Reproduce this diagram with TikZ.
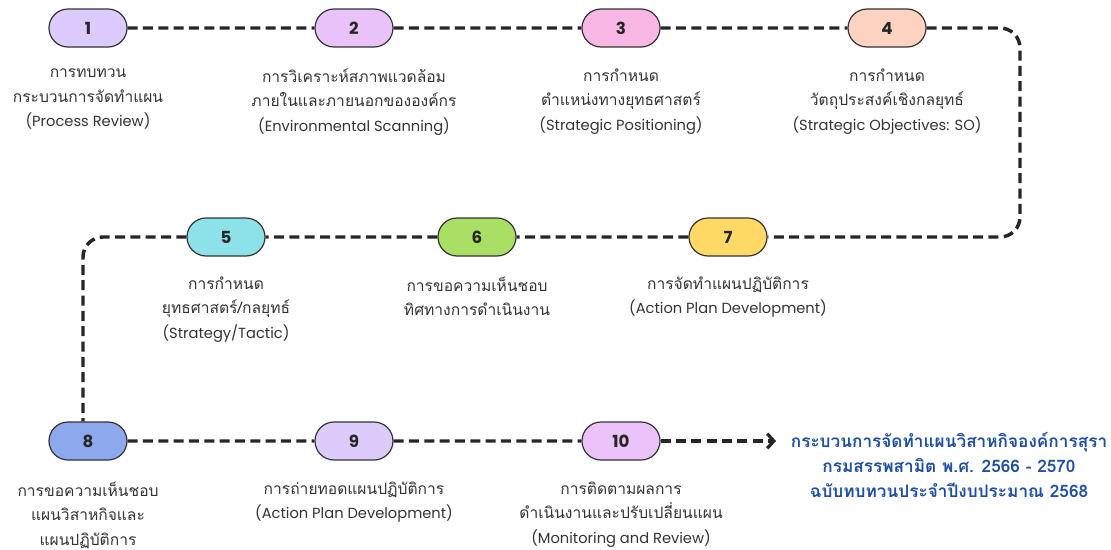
\documentclass[tikz,border=0pt]{standalone}
\usepackage{fontspec}
\setmainfont{Poppins}
\newfontfamily\thai[Script=Thai]{Loma}
\newfontfamily\numfont{Poppins}
\usetikzlibrary{shapes.misc,arrows.meta}
\definecolor{txt}{HTML}{333333}
\definecolor{c1}{HTML}{DCCBFC}
\definecolor{c2}{HTML}{E9C2FA}
\definecolor{c3}{HTML}{F9B7E6}
\definecolor{c4}{HTML}{FCD3C0}
\definecolor{c5}{HTML}{8DE1E8}
\definecolor{c6}{HTML}{A9E064}
\definecolor{c7}{HTML}{FFD966}
\definecolor{c8}{HTML}{8EA8EE}
\definecolor{c9}{HTML}{DDCBFC}
\definecolor{c10}{HTML}{EBC2F9}
\definecolor{titleblue}{HTML}{1F4FA0}
\tikzset{
  pill/.style={rounded rectangle, draw=black!80, line width=0.9pt, fill=#1,
    minimum width=58.5pt, minimum height=28.5pt, inner sep=0pt,
    font=\numfont\bfseries\fontsize{12.5}{13}\selectfont, text=black!85},
  lbl/.style={anchor=north, align=center, text=txt,
    font=\thai\fontsize{11.7}{18.4}\selectfont},
  link/.style={line width=2.6pt, dash pattern=on 7.5pt off 4pt, draw=black!85},
  ttl/.style={anchor=north, align=center, text=titleblue,
    font=\thai\bfseries\fontsize{12.9}{18.6}\selectfont}
}
\newcommand{\en}[1]{{\numfont\fontsize{11}{18.4}\selectfont #1}}
\begin{document}
\begin{tikzpicture}[x=0.75pt,y=-0.75pt]
  \useasboundingbox (0,0) rectangle (1111,550);

  % process steps
  \node[pill=c1]  (p1)  at (88,28)   {1};
  \node[pill=c2]  (p2)  at (354,28)  {2};
  \node[pill=c3]  (p3)  at (621,28)  {3};
  \node[pill=c4]  (p4)  at (887,28)  {4};
  \node[pill=c5]  (p5)  at (226,237) {5};
  \node[pill=c6]  (p6)  at (477,237) {6};
  \node[pill=c7]  (p7)  at (728,237) {7};
  \node[pill=c8]  (p8)  at (88,441)  {8};
  \node[pill=c9]  (p9)  at (354,441) {9};
  \node[pill=c10] (p10) at (621,441) {10};

  % step descriptions
  \node[lbl] (t1) at (88,64)  {การทบทวน\\กระบวนการจัดทำแผน\\\en{(Process Review)}};
  \node[lbl] (t2) at (354,64) {การวิเคราะห์สภาพแวดล้อม\\ภายในและภายนอกขององค์กร\\\en{(Environmental Scanning)}};
  \node[lbl] (t3) at (621,64) {การกำหนด\\ตำแหน่งทางยุทธศาสตร์\\\en{(Strategic Positioning)}};
  \node[lbl] (t4) at (887,64) {การกำหนด\\วัตถุประสงค์เชิงกลยุทธ์\\\en{(Strategic Objectives: SO)}};
  \node[lbl] (t5) at (226,272) {การกำหนด\\ยุทธศาสตร์/กลยุทธ์\\\en{(Strategy/Tactic)}};
  \node[lbl] (t6) at (477,272) {การขอความเห็นชอบ\\ทิศทางการดำเนินงาน};
  \node[lbl] (t7) at (728,272) {การจัดทำแผนปฏิบัติการ\\\en{(Action Plan Development)}};
  \node[lbl] (t8) at (88,477)  {การขอความเห็นชอบ\\แผนวิสาหกิจและ\\แผนปฏิบัติการ};
  \node[lbl] (t9) at (354,477) {การถ่ายทอดแผนปฏิบัติการ\\\en{(Action Plan Development)}};
  \node[lbl] (t10) at (621,477) {การติดตามผลการ\\ดำเนินงานและปรับเปลี่ยนแผน\\\en{(Monitoring and Review)}};

  % outcome
  \node[ttl] (out) at (949,428) {กระบวนการจัดทำแผนวิสาหกิจองค์การสุรา\\กรมสรรพสามิต พ.ศ. 2566 - 2570\\ฉบับทบทวนประจำปีงบประมาณ 2568};

  % turning points of the route
  \coordinate (cR) at (1020,130);
  \coordinate (aEnd) at (776,441);

  % connectors
  \draw[link] (p1) -- (p2);
  \draw[link] (p2) -- (p3);
  \draw[link] (p3) -- (p4);
  \draw[link, rounded corners=15pt] (p4.east) -| (cR) |- (p7.east);
  \draw[link] (p7) -- (p6);
  \draw[link] (p6) -- (p5);
  \draw[link, rounded corners=15pt] (p5.west) -| ([xshift=-3.75pt]p8.north);
  \draw[link] (p8) -- (p9);
  \draw[link] (p9) -- (p10);
  \draw[link, -{Straight Barb[length=5pt,width=11pt,line width=2.4pt]}] (p10.east) -- (aEnd);
\end{tikzpicture}
\end{document}
